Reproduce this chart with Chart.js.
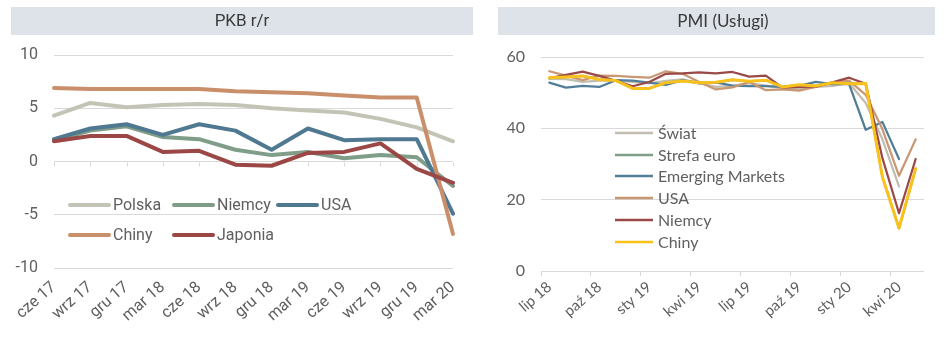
<!DOCTYPE html>
<html><head><meta charset="utf-8">
<script src="https://cdn.jsdelivr.net/npm/chart.js@4.4.1/dist/chart.umd.min.js"></script>
<style>
html,body{margin:0;padding:0;background:#fff;}
#wrap{position:relative;width:949px;height:337px;overflow:hidden;background:#fff;}
canvas{position:absolute;top:0;}
#c1{left:0;} #c2{left:475px;}
</style></head><body>
<div id="wrap"><canvas id="c1" width="475" height="337"></canvas><canvas id="c2" width="474" height="337"></canvas></div>
<script>
// ---- PKB r/r (left) ----
const pkbLabels = ['cze 17','wrz 17','gru 17','mar 18','cze 18','wrz 18','gru 18','mar 19','cze 19','wrz 19','gru 19','mar 20'];
const pkbPolska  = [4.3, 5.5, 5.1, 5.3, 5.4, 5.3, 5.0, 4.8, 4.6, 4.0, 3.2, 1.9];
const pkbNiemcy  = [2.0, 2.9, 3.3, 2.3, 2.1, 1.1, 0.6, 0.9, 0.3, 0.6, 0.4, -2.3];
const pkbUSA     = [2.1, 3.1, 3.5, 2.5, 3.5, 2.9, 1.1, 3.1, 2.0, 2.1, 2.1, -4.9];
const pkbChiny   = [6.9, 6.8, 6.8, 6.8, 6.8, 6.6, 6.5, 6.4, 6.2, 6.0, 6.0, -6.8];
const pkbJaponia = [1.9, 2.4, 2.4, 0.9, 1.0, -0.3, -0.4, 0.8, 0.9, 1.7, -0.7, -2.0];
const pkbTicks = [-10, -5, 0, 5, 10];

// ---- PMI (Usługi) (right) ----
const pmiLabels = ['lip 18','sie 18','wrz 18','paź 18','lis 18','gru 18','sty 19','lut 19','mar 19','kwi 19','maj 19','cze 19','lip 19','sie 19','wrz 19','paź 19','lis 19','gru 19','sty 20','lut 20','mar 20','kwi 20','maj 20'];
const pmiSwiat   = [53.9, 53.8, 53.0, 53.4, 53.4, 53.0, 52.6, 53.3, 53.7, 52.7, 51.6, 51.9, 52.7, 52.0, 51.3, 51.0, 51.6, 51.9, 52.7, 47.1, 37.0, 23.7, null];
const pmiStrefa  = [54.2, 54.4, 54.7, 53.7, 53.4, 51.2, 51.2, 52.8, 53.3, 52.8, 52.9, 53.6, 53.2, 53.5, 51.6, 52.2, 51.9, 52.8, 52.5, 52.6, 26.4, 12.0, 28.7];
const pmiEM      = [52.8, 51.4, 51.9, 51.6, 53.5, 53.4, 52.8, 52.2, 53.5, 52.6, 52.9, 52.0, 51.8, 51.8, 51.6, 51.9, 53.0, 52.4, 52.4, 39.6, 41.8, 31.4, null];
const pmiUSA     = [56.0, 54.8, 53.5, 54.8, 54.7, 54.4, 54.2, 56.0, 55.3, 53.0, 50.9, 51.5, 53.0, 50.7, 50.9, 50.6, 51.6, 52.8, 53.4, 49.4, 39.8, 26.7, 36.9];
const pmiNiemcy  = [54.1, 55.0, 55.9, 54.7, 53.3, 51.8, 53.0, 55.3, 55.4, 55.7, 55.4, 55.8, 54.5, 54.8, 51.4, 51.6, 51.7, 52.9, 54.2, 52.5, 31.7, 16.2, 31.4];
const pmiChiny   = [54.2, 54.4, 54.7, 53.7, 53.4, 51.2, 51.2, 52.8, 53.3, 52.8, 52.9, 53.6, 53.2, 53.5, 51.6, 52.2, 51.9, 52.8, 52.5, 52.6, 26.4, 12.0, 28.7];
const pmiTicks = [0, 20, 40, 60];

const GRID = '#d9d9d9';
const TXT = '#5f5f5f';

const bandPlugin = {
  id: 'band',
  beforeDraw(chart, args, o) {
    const ctx = chart.ctx;
    ctx.save();
    ctx.fillStyle = o.bg;
    ctx.fillRect(o.x, o.y, o.w, o.h);
    ctx.fillStyle = o.color;
    ctx.font = o.font;
    ctx.textAlign = 'center';
    ctx.textBaseline = 'middle';
    ctx.fillText(o.text, o.tx, o.y + o.h / 2 + 1);
    ctx.restore();
  }
};

const inlineLegend = {
  id: 'inlineLegend',
  afterDatasetsDraw(chart, args, o) {
    const ctx = chart.ctx;
    ctx.save();
    ctx.font = o.font;
    ctx.textBaseline = 'middle';
    ctx.textAlign = 'left';
    o.items.forEach(it => {
      const ds = chart.data.datasets[it.i];
      ctx.strokeStyle = ds.borderColor;
      ctx.lineWidth = o.lineWidth;
      ctx.lineCap = o.cap;
      ctx.beginPath();
      ctx.moveTo(it.x, it.y);
      ctx.lineTo(it.x + o.len, it.y);
      ctx.stroke();
      ctx.fillStyle = o.color;
      ctx.fillText(ds.label, it.x + o.len + o.gap, it.y + 1);
    });
    ctx.restore();
  }
};

const zeroTicks = {
  id: 'zeroTicks',
  beforeDatasetsDraw(chart, args, o) {
    const xs = chart.scales.x, ys = chart.scales.y;
    const y0 = Math.round(ys.getPixelForValue(0)) + 0.5;
    const ctx = chart.ctx;
    ctx.save();
    ctx.strokeStyle = o.color;
    ctx.lineWidth = 1;
    ctx.beginPath();
    chart.data.labels.forEach((l, i) => {
      const px = Math.round(xs.getPixelForValue(i)) + 0.5;
      ctx.moveTo(px, y0);
      ctx.lineTo(px, y0 + o.len);
    });
    ctx.stroke();
    ctx.restore();
  }
};

function ds(label, data, color, width, idx) {
  return { label, data, borderColor: color, backgroundColor: color, borderWidth: width,
    pointRadius: 0, pointHoverRadius: 0, tension: 0, fill: false, spanGaps: false,
    borderCapStyle: 'round', borderJoinStyle: 'round', order: -idx };
}

// Left chart
new Chart(document.getElementById('c1'), {
  type: 'line',
  data: {
    labels: pkbLabels,
    datasets: [
      ds('Polska', pkbPolska, '#c4c4b6', 4, 0),
      ds('Niemcy', pkbNiemcy, '#7f9d89', 4, 1),
      ds('USA', pkbUSA, '#4f7891', 4, 2),
      ds('Chiny', pkbChiny, '#c98f6b', 4, 3),
      ds('Japonia', pkbJaponia, '#9a4745', 4, 4)
    ]
  },
  plugins: [bandPlugin, inlineLegend, zeroTicks],
  options: {
    responsive: false, animation: false, devicePixelRatio: 1,
    layout: { padding: { top: 55, right: 22, left: 0, bottom: 0 } },
    plugins: {
      legend: { display: false }, tooltip: { enabled: false }, title: { display: false },
      band: { bg: '#dde3e8', x: 11, y: 7, w: 462, h: 28, text: 'PKB r/r', tx: 242, color: '#3a3a3a', font: '17px Roboto' },
      inlineLegend: { font: '16px Roboto', color: TXT, lineWidth: 4, cap: 'round', len: 39, gap: 4,
        items: [ {i:0, x:70, y:205}, {i:1, x:174, y:205}, {i:2, x:278, y:205}, {i:3, x:70, y:235}, {i:4, x:174, y:235} ] },
      zeroTicks: { color: GRID, len: 4 }
    },
    scales: {
      x: {
        type: 'category', offset: false,
        grid: { display: false },
        border: { display: false },
        ticks: { color: TXT, font: { family: 'Roboto', size: 16 }, autoSkip: false, minRotation: 41, maxRotation: 41, padding: 2 },
        afterFit(s) { s.height = 69; }
      },
      y: {
        min: -10, max: 10,
        afterBuildTicks(s) { s.ticks = pkbTicks.map(v => ({ value: v })); },
        grid: { color: GRID, lineWidth: 1, drawTicks: false },
        border: { display: false },
        ticks: { color: TXT, font: { family: 'Roboto', size: 16 }, padding: 16 },
        afterFit(s) { s.width = 54; }
      }
    }
  }
});

// Right chart
new Chart(document.getElementById('c2'), {
  type: 'line',
  data: {
    labels: pmiLabels,
    datasets: [
      ds('Świat', pmiSwiat, '#c2beaf', 2.25, 0),
      ds('Strefa euro', pmiStrefa, '#7f9f89', 2.25, 1),
      ds('Emerging Markets', pmiEM, '#527e99', 2.25, 2),
      ds('USA', pmiUSA, '#c89874', 2.25, 3),
      ds('Niemcy', pmiNiemcy, '#9a4947', 2.25, 4),
      ds('Chiny', pmiChiny, '#f9c11c', 3, 5)
    ]
  },
  plugins: [bandPlugin, inlineLegend],
  options: {
    responsive: false, animation: false, devicePixelRatio: 1,
    layout: { padding: { top: 57, right: 25, left: 0, bottom: 0 } },
    plugins: {
      legend: { display: false }, tooltip: { enabled: false }, title: { display: false },
      band: { bg: '#dde3e8', x: 23, y: 7, w: 437, h: 28, text: 'PMI (Usługi)', tx: 248, color: '#3a3a3a', font: '17px Lato' },
      inlineLegend: { font: '16px Lato', color: TXT, lineWidth: 2.5, cap: 'butt', len: 38, gap: 5,
        items: [ {i:0, x:140, y:133}, {i:1, x:140, y:155}, {i:2, x:140, y:176}, {i:3, x:140, y:198}, {i:4, x:140, y:220}, {i:5, x:140, y:242} ] }
    },
    scales: {
      x: {
        type: 'category', offset: true,
        grid: { display: true, drawOnChartArea: false, drawTicks: true, tickLength: 5, offset: true,
          tickColor: (c) => (c.index % 3 === 0 && c.index < pmiLabels.length) ? GRID : 'rgba(0,0,0,0)',
          color: 'rgba(0,0,0,0)' },
        border: { display: false },
        ticks: { color: TXT, font: { family: 'Lato', size: 15 }, autoSkip: false, minRotation: 41, maxRotation: 41, padding: 2,
          callback(v, i) { return i % 3 === 0 ? pmiLabels[i] : ''; } },
        afterFit(s) { s.height = 66; }
      },
      y: {
        min: 0, max: 60,
        afterBuildTicks(s) { s.ticks = pmiTicks.map(v => ({ value: v })); },
        grid: { color: GRID, lineWidth: 1, drawTicks: false },
        border: { display: false },
        ticks: { color: TXT, font: { family: 'Lato', size: 16 }, padding: 16 },
        afterFit(s) { s.width = 66; }
      }
    }
  }
});
</script>
</body></html>
